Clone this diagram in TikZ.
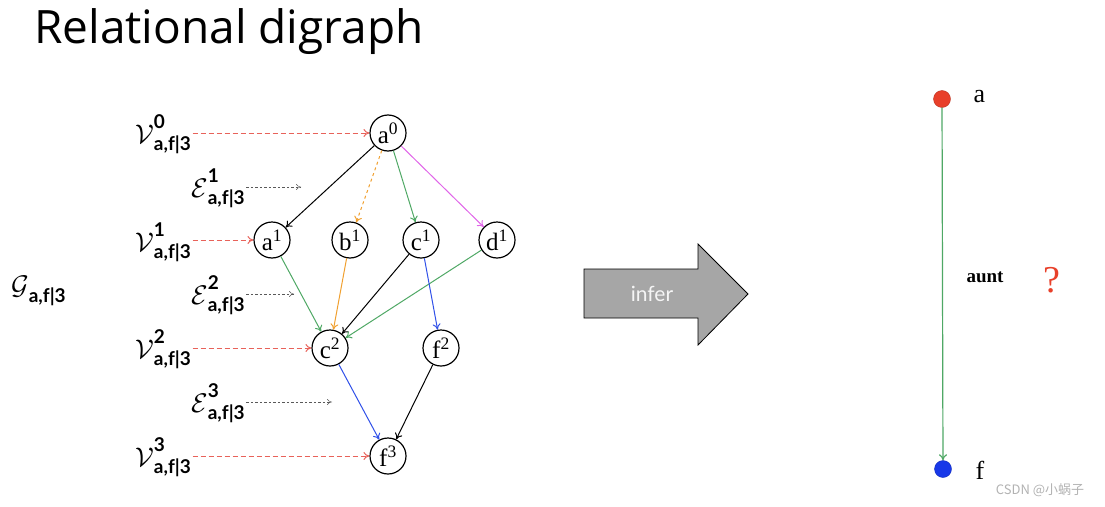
\documentclass[tikz,border=0pt]{standalone}
\usepackage{fontspec}
\setmainfont{Liberation Serif}
\setsansfont{Lato}
\newfontfamily\titlefont{Open Sans}
\newfontfamily\cjk{Noto Sans CJK SC}
\usetikzlibrary{arrows.meta, positioning}
\definecolor{vred}{HTML}{E8625A}
\definecolor{egreen}{HTML}{4FA865}
\definecolor{eorange}{HTML}{F0A030}
\definecolor{emagenta}{HTML}{E065E8}
\definecolor{eblue}{HTML}{3050E8}
\definecolor{dotred}{HTML}{E8402A}
\definecolor{dotblue}{HTML}{1838E8}
\tikzstyle{arrow} = [line width=1pt, -{To[length=6pt,width=8pt]}]
\tikzstyle{ent} = [circle, draw, line width=1.2pt, minimum size=36pt, inner sep=0pt, font=\fontsize{25}{26}\selectfont]
\tikzstyle{lab} = [anchor=west, inner sep=1pt, font=\fontsize{22}{24}\selectfont]
\tikzstyle{vlink} = [arrow, vred, dash pattern=on 5pt off 3pt]
\tikzstyle{elink} = [thin, gray!70!black, dash pattern=on 2.5pt off 2pt, -{To[length=5pt,width=6pt]}]
\newcommand{\subfont}{\sffamily\bfseries\fontsize{19}{20}\selectfont}
\newcommand{\bigcal}[1]{\scalebox{1.3}{$\mathcal{#1}$}}
\newcommand{\lowsub}{\mbox{\subfont\raisebox{-2pt}{a,f|3}}}
\newcommand{\vlab}[1]{$\bigcal{V}^{\mbox{\subfont\raisebox{2pt}{#1}}}_{\lowsub}$}
\newcommand{\elab}[1]{$\bigcal{E}^{\mbox{\subfont\raisebox{2pt}{#1}}}_{\lowsub}$}

\begin{document}
\begin{tikzpicture}[x=1pt, y=-1pt]
    \useasboundingbox (0,0) rectangle (1105,506);
    \node[anchor=base west, inner sep=0pt, font=\titlefont\fontsize{46}{50}\selectfont] (title) at (34,43) {Relational digraph};

    % entity nodes per step
    \node[ent] (a0) at (388,133) {a\textsuperscript{0}};
    \node[ent] (a1) at (272,240) {a\textsuperscript{1}};
    \node[ent] (b1) at (350,240) {b\textsuperscript{1}};
    \node[ent] (c1) at (421,240) {c\textsuperscript{1}};
    \node[ent] (d1) at (497,240) {d\textsuperscript{1}};
    \node[ent] (c2) at (330,348) {c\textsuperscript{2}};
    \node[ent] (f2) at (441,348) {f\textsuperscript{2}};
    \node[ent] (f3) at (388,456) {f\textsuperscript{3}};

    % left labels
    \node[lab] (v0) at (134,134) {\vlab{0}};
    \node[lab] (v1) at (134,242) {\vlab{1}};
    \node[lab] (v2) at (134,349) {\vlab{2}};
    \node[lab] (v3) at (134,457) {\vlab{3}};
    \node[lab] (e1) at (190,188) {\elab{1}};
    \node[lab] (e2) at (190,295) {\elab{2}};
    \node[lab] (e3) at (190,403) {\elab{3}};
    \node[lab] (g) at (10,291) {$\bigcal{G}_{\lowsub}$};

    \draw[vlink] (v0.east |- a0) -- (a0.west);
    \draw[vlink] (v1.east |- a1) -- (a1.west);
    \draw[vlink] (v2.east |- c2) -- (c2.west);
    \draw[vlink] (v3.east |- f3) -- (f3.west);
    \coordinate (e1end) at (301,187);
    \coordinate (e2end) at (294,294);
    \coordinate (e3end) at (332,402);
    \draw[elink] (e1.east |- e1end) -- (e1end);
    \draw[elink] (e2.east |- e2end) -- (e2end);
    \draw[elink] (e3.east |- e3end) -- (e3end);

    % edges
    \draw[arrow] (a0) -- (a1);
    \draw[arrow, eorange, dashed] (a0) -- (b1);
    \draw[arrow, egreen] (a0) -- (c1);
    \draw[arrow, emagenta] (a0) -- (d1);
    \draw[arrow, egreen] (a1) -- (c2);
    \draw[arrow, eorange] (b1) -- (c2);
    \draw[arrow] (c1) -- (c2);
    \draw[arrow, egreen] (d1) -- (c2);
    \draw[arrow, eblue] (c1) -- (f2);
    \draw[arrow, eblue] (c2) -- (f3);
    \draw[arrow] (f2) -- (f3);

    % infer arrow
    \draw[thick, fill=gray!70] (584,269) -- (698,269) -- (698,244) -- (748,294)
        -- (698,345) -- (698,318) -- (584,318) -- cycle;
    \node[text=white!92!gray, font=\sffamily\fontsize{21}{23}\selectfont] (infer) at (652,294) {infer};

    % query
    \node[circle, fill=dotred, draw=dotred!80!black, minimum size=17pt, inner sep=0pt] (pa) at (942,99) {};
    \node[circle, fill=dotblue, draw=dotblue!80!black, minimum size=17pt, inner sep=0pt] (pf) at (943,469) {};
    \node[font=\fontsize{26}{28}\selectfont, anchor=west] (la) at (970,97) {a};
    \node[font=\fontsize{26}{28}\selectfont, anchor=west] (lf) at (972,470) {f};
    \draw[arrow, egreen, line width=1.2pt] (pa) -- (pf);
    \node[font=\bfseries\fontsize{19}{21}\selectfont] (aunt) at (985,277) {aunt};
    \node[text=dotred, font=\fontsize{38}{40}\selectfont] (qm) at (1052,280) {?};
    \node[text=gray!60, font=\cjk\fontsize{13}{14}\selectfont] (mark) at (1040,490) {CSDN @小蜗子};
\end{tikzpicture}
\end{document}
